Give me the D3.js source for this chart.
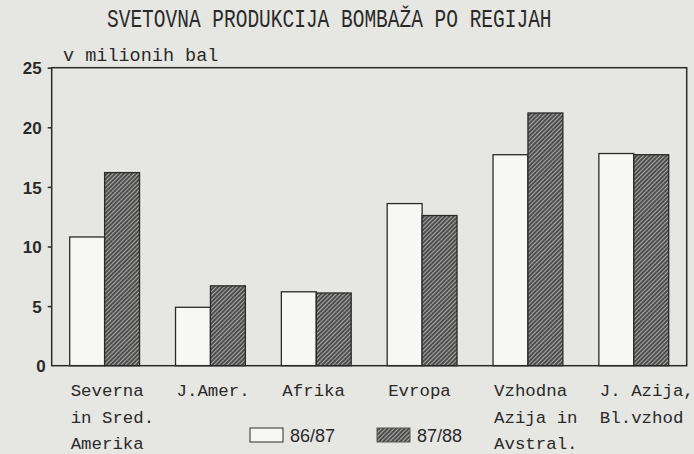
<!DOCTYPE html>
<html>
<head>
<meta charset="utf-8">
<script src="https://cdn.jsdelivr.net/npm/d3@7"></script>
<style>
  body { margin: 0; background: #e6e6e3; }
  svg { display: block; }
</style>
</head>
<body>
<div id="chart"></div>
<script>
// data
var regions = ["sev", "jam", "afr", "evr", "vzh", "jaz"];
var regionLabels = [
    ["Severna", "in Sred.", "Amerika"],
    ["J.Amer."],
    ["Afrika"],
    ["Evropa"],
    ["Vzhodna", "Azija in", "Avstral."],
    ["J. Azija,", "Bl.vzhod"]
];
var seasons = ["86/87", "87/88"];
var prod8687 = [10.8, 4.9, 6.2, 13.6, 17.7, 17.8];
var prod8788 = [16.2, 6.7, 6.1, 12.6, 21.2, 17.7];
var yTicks = [0, 5, 10, 15, 20, 25];

var W = 694, H = 454;
var LEFT = 51.7, RIGHT = 686.7, TOP = 67.7, BOTTOM = 365.7;
var INK = "#2a2a2a";
var MONO = "'Liberation Mono', 'DejaVu Sans Mono', monospace";
var SANS = "'Liberation Sans', Arial, sans-serif";

var svg = d3.select("#chart").append("svg")
    .attr("width", W)
    .attr("height", H);

var defs = svg.append("defs");
var hatch = defs.append("pattern")
    .attr("id", "hatch")
    .attr("patternUnits", "userSpaceOnUse")
    .attr("width", 3)
    .attr("height", 3)
    .attr("patternTransform", "rotate(45)");
hatch.append("rect").attr("width", 3).attr("height", 3).style("fill", "#4e4e4e");
hatch.append("line")
    .attr("x1", 0.5).attr("y1", 0).attr("x2", 0.5).attr("y2", 3)
    .style("stroke", "#a8a8a8")
    .style("stroke-width", 1);

var fills = ["#f7f7f5", "url(#hatch)"];

var x = d3.scaleBand()
    .domain(regions)
    .range([LEFT, RIGHT])
    .paddingInner(0.34)
    .paddingOuter(0.17);

var xSeason = d3.scaleBand()
    .domain(seasons)
    .range([0, x.bandwidth()]);

var y = d3.scaleLinear()
    .domain([0, 25])
    .range([BOTTOM, TOP]);

// title
svg.append("text")
    .text("SVETOVNA PRODUKCIJA BOMBAŽA PO REGIJAH")
    .attr("transform", "translate(107,27) scale(1,1.3)")
    .style("font-family", MONO)
    .style("font-size", "19.5px")
    .style("fill", INK);

svg.append("text")
    .text("v milionih bal")
    .attr("x", 63)
    .attr("y", 61)
    .style("font-family", MONO)
    .style("font-size", "18.5px")
    .style("fill", INK);

// bars
var rows = regions.map(function (r, i) {
    return {region: r, values: [prod8687[i], prod8788[i]]};
});

var groups = svg.append("g").attr("class", "bars")
    .selectAll("g")
    .data(rows).enter()
    .append("g")
    .attr("transform", d => "translate(" + x(d.region) + ",0)");

groups.selectAll("rect")
    .data(d => d.values.map((v, k) => ({season: seasons[k], value: v, k: k})))
    .enter()
    .append("rect")
    .attr("x", d => xSeason(d.season))
    .attr("y", d => y(d.value))
    .attr("width", xSeason.bandwidth())
    .attr("height", d => y(0) - y(d.value))
    .style("fill", d => fills[d.k])
    .style("stroke", INK)
    .style("stroke-width", 1.3);

// frame
svg.append("rect")
    .attr("x", LEFT)
    .attr("y", TOP)
    .attr("width", RIGHT - LEFT)
    .attr("height", BOTTOM - TOP)
    .style("fill", "none")
    .style("stroke", INK)
    .style("stroke-width", 1.5);

// y axis
var yAxis = svg.append("g")
    .attr("transform", "translate(" + LEFT + ",0)")
    .call(d3.axisLeft(y).tickValues(yTicks).tickSize(4).tickPadding(6));
yAxis.select(".domain").remove();
yAxis.selectAll("line")
    .style("stroke", INK)
    .style("stroke-width", 1.5)
    .filter(d => d == 0).remove();
yAxis.selectAll("text")
    .style("font-family", SANS)
    .style("font-weight", "bold")
    .style("font-size", "17px")
    .style("fill", INK)
    .attr("dy", "0.36em")
    .filter(d => d == 0).attr("x", -6);

// category labels
var labels = svg.append("g").attr("class", "cat-labels")
    .selectAll("text")
    .data(regions).enter()
    .append("text")
    .attr("x", d => x(d) + 1)
    .attr("y", 396)
    .style("font-family", MONO)
    .style("font-size", "17.4px")
    .style("fill", INK);

labels.selectAll("tspan")
    .data((d, i) => regionLabels[i])
    .enter()
    .append("tspan")
    .attr("x", function () { return d3.select(this.parentNode).attr("x"); })
    .attr("dy", (d, i) => i == 0 ? 0 : 26.5)
    .text(d => d);

// legend
var legendX = [250, 377];
var legend = svg.append("g").attr("class", "legend")
    .selectAll("g")
    .data(seasons).enter()
    .append("g")
    .attr("transform", (d, i) => "translate(" + legendX[i] + ",428)");

legend.append("rect")
    .attr("width", 33)
    .attr("height", 14)
    .style("fill", (d, i) => fills[i])
    .style("stroke", (d, i) => i == 0 ? INK : "#555")
    .style("stroke-width", 1);

legend.append("text")
    .attr("x", 40)
    .attr("y", 13.5)
    .text(d => d)
    .style("font-family", SANS)
    .style("font-size", "18px")
    .style("fill", INK);
</script>
</body>
</html>
